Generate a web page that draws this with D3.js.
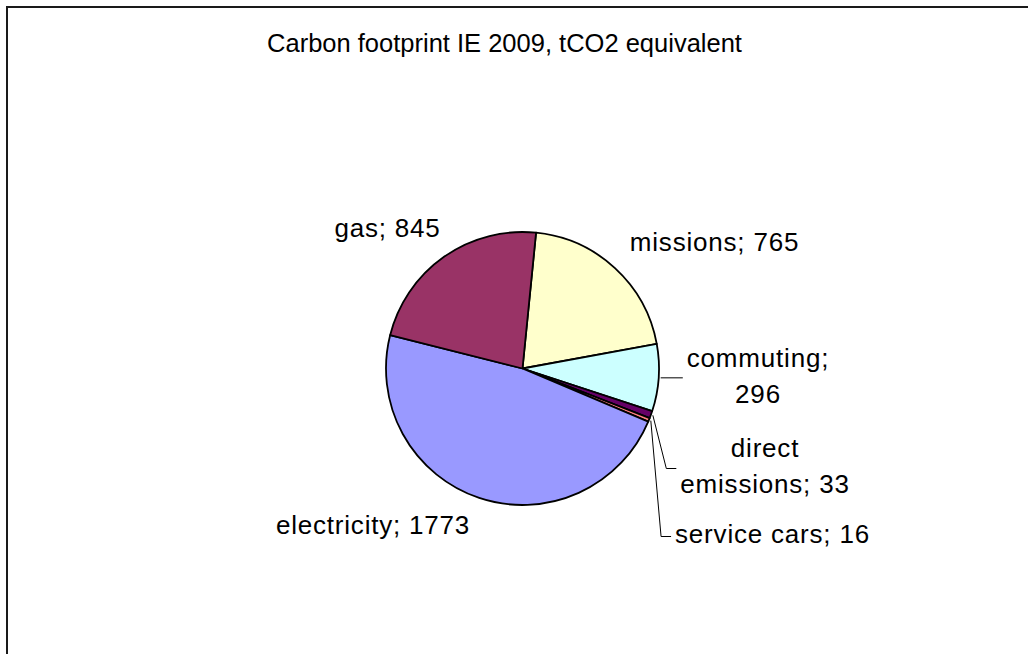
<!DOCTYPE html>
<html>
<head>
<meta charset="utf-8">
<script src="https://cdn.jsdelivr.net/npm/d3@7"></script>
<style>
  body { margin: 0; background: #fff; }
  text { font-family: "Liberation Sans", Arial, sans-serif; fill: #000; }
</style>
</head>
<body>
<div id="chart"></div>
<script>
// data, in the order Excel draws the slices (clockwise)
const categories = ["missions", "commuting", "direct emissions", "service cars", "electricity", "gas"];
const values = [765, 296, 33, 16, 1773, 845];
const colors = ["#FFFFCC", "#CCFFFF", "#660066", "#FF8080", "#9999FF", "#993366"];
const title = "Carbon footprint IE 2009, tCO2 equivalent";

// layout
const W = 1028, H = 654;
const cx = 522.5, cy = 368.5, R = 136.5;
const startDeg = 5.7;
const fontSize = 26;
const lineGap = 36;
// words on first line (0 = one line), label offsets from pie centre (x = text centre, y = first baseline)
const wrapAt = [0, 1, 1, 0, 0, 0];
const labelOffsets = [[192, -117.5], [235.5, -1.5], [242.5, 88.5], [250, 174.5], [-149.5, 165.5], [-135, -131.5]];
const withLeader = [false, true, true, true, false, false];

const svg = d3.select("#chart")
    .append("svg")
    .attr("width", W)
    .attr("height", H);

// chart border (right/bottom edges fall outside the picture)
svg.append("rect")
    .attr("x", 7)
    .attr("y", 7)
    .attr("width", W + 20)
    .attr("height", H + 20)
    .attr("fill", "none")
    .attr("stroke", "#1a1a1a")
    .attr("stroke-width", 2);

svg.append("text")
    .attr("x", 504.5)
    .attr("y", 52)
    .attr("text-anchor", "middle")
    .style("font-size", "25.5px")
    .text(title);

const rad = d => d * Math.PI / 180;

const pie = d3.pie()
    .sort(null)
    .value(d => d)
    .startAngle(rad(startDeg))
    .endAngle(rad(startDeg + 360));

const arcs = pie(values);

const arc = d3.arc().innerRadius(0).outerRadius(R);

const g = svg.append("g").attr("transform", `translate(${cx},${cy})`);

g.selectAll("path.slice")
    .data(arcs)
    .enter()
    .append("path")
    .attr("class", "slice")
    .attr("d", arc)
    .attr("fill", (d, i) => colors[i])
    .attr("stroke", "#000")
    .attr("stroke-width", 1.8)
    .attr("stroke-linejoin", "round");

// labels
const labels = g.selectAll("g.label")
    .data(arcs)
    .enter()
    .append("g")
    .attr("class", "label");

labels.each(function(d, i) {
    const words = `${categories[i]}; ${values[i]}`.split(" ");
    const lines = wrapAt[i] ? [words.slice(0, wrapAt[i]).join(" "), words.slice(wrapAt[i]).join(" ")] : [words.join(" ")];
    const [ox, oy] = labelOffsets[i];
    const t = d3.select(this).append("text")
        .attr("text-anchor", "middle")
        .style("font-size", fontSize + "px")
        .style("letter-spacing", "0.8px");
    lines.forEach((ln, k) => {
        t.append("tspan")
            .attr("x", ox)
            .attr("y", oy + k * lineGap)
            .text(ln);
    });

    if (!withLeader[i]) return;
    // leader line from slice edge to the left side of the label box
    const box = t.node().getBBox();
    const mid = (d.startAngle + d.endAngle) / 2;
    const sx = Math.sin(mid) * (R + 2), sy = -Math.cos(mid) * (R + 2);
    const my = oy + (lines.length - 1) * lineGap / 2 - 6.5;
    const ex = box.x - 4;
    const pts = Math.abs(sy - my) < 4
        ? [[sx, sy], [ex, sy]]
        : [[sx, sy], [ex - 10, my], [ex, my]];
    g.append("path")
        .attr("d", d3.line()(pts))
        .attr("fill", "none")
        .attr("stroke", "#000")
        .attr("stroke-width", 1);
});
</script>
</body>
</html>
